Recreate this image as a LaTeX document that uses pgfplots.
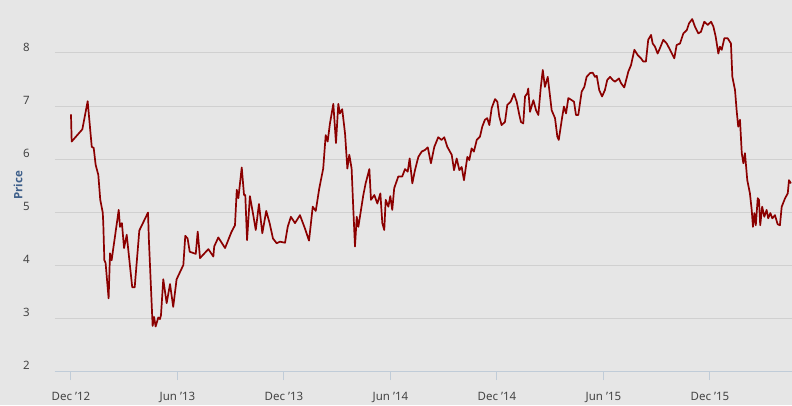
\documentclass[border=0pt]{standalone}
\usepackage{pgfplots}
\pgfplotsset{compat=1.18}
\usepackage{fontspec}
\setmainfont{Noto Sans}
\newfontfamily\titfont{Open Sans}
\definecolor{bgc}{HTML}{E6E6E6}
\definecolor{gridc}{HTML}{D0D0D0}
\definecolor{axisc}{HTML}{C0CCD8}
\definecolor{linec}{HTML}{8B0000}
\definecolor{labc}{HTML}{444444}
\definecolor{titc}{HTML}{3E5F8A}
\begin{document}
\begin{tikzpicture}
\fill[bgc] (-55pt,-34pt) rectangle (737pt,371pt);
\begin{axis}[
  at={(0pt,0pt)}, anchor=south west,
  scale only axis, width=737pt, height=371pt,
  xmin=-0.90, xmax=40.62, ymin=2, ymax=9,
  ytick={2,3,4,5,6,7,8},
  xtick={0,6,12,18,24,30,36},
  xticklabels={Dec '12,Jun '13,Dec '13,Jun '14,Dec '14,Jun '15,Dec '15},
  axis x line*=bottom, axis y line*=left,
  y axis line style={draw=none},
  x axis line style={draw=axisc, line width=1pt, -},
  xtick style={draw=axisc, line width=1pt},
  ytick style={draw=none},
  tick align=outside, major tick length=9pt,
  ymajorgrids, grid style={draw=gridc, line width=1pt},
  /pgf/number format/assume math mode=true,
  tick label style={font=\fontsize{11.5}{13}\selectfont, text=labc},
  yticklabel style={anchor=east, inner sep=0pt, xshift=-16pt, yshift=6pt},
  xticklabel style={anchor=base, inner sep=0pt, yshift=-20pt},
  ylabel={Price},
  ylabel style={at={(axis description cs:0,0.5)}, anchor=center, yshift=37pt,
    font=\titfont\bfseries\fontsize{11.5}{13}\selectfont, text=titc},
]
\addplot[linec, line width=1.7pt, line join=round] coordinates {
(0.00,6.84) (0.04,6.33) (0.64,6.56) (0.94,7.09) (1.17,6.23) (1.28,6.21)
(1.39,5.89) (1.54,5.70) (1.65,5.23) (1.79,4.99) (1.82,4.79) (1.88,4.09)
(1.95,4.04) (2.12,3.37) (2.20,4.22) (2.29,4.09) (2.69,5.04) (2.76,4.72)
(2.87,4.79) (2.99,4.32) (3.14,4.57) (3.45,3.58) (3.59,3.58) (3.85,4.65)
(4.34,4.99) (4.39,4.47) (4.60,2.85) (4.68,3.02) (4.77,2.84) (4.92,3.01)
(5.01,2.98) (5.07,3.05) (5.20,3.73) (5.39,3.28) (5.58,3.64) (5.76,3.21)
(5.95,3.73) (6.33,4.00) (6.44,4.55) (6.57,4.50) (6.69,4.25) (7.03,4.21)
(7.14,4.63) (7.27,4.13) (7.74,4.30) (8.02,4.16) (8.07,4.35) (8.30,4.52)
(8.68,4.32) (9.05,4.63) (9.24,4.75) (9.34,5.42) (9.43,5.26) (9.62,5.84)
(9.75,5.32) (9.82,5.32) (9.92,4.47) (10.08,5.30) (10.27,4.94) (10.41,4.66)
(10.59,5.15) (10.78,4.60) (11.00,5.02) (11.19,4.79) (11.38,4.50) (11.59,4.41)
(11.77,4.44) (12.06,4.42) (12.21,4.72) (12.39,4.91) (12.62,4.79) (12.90,4.94)
(13.18,4.69) (13.41,4.46) (13.62,5.10) (13.79,5.02) (13.99,5.45) (14.21,5.82)
(14.35,6.45) (14.46,6.33) (14.59,6.67) (14.78,7.04) (14.93,6.30) (15.06,7.04)
(15.15,6.86) (15.28,6.94) (15.44,6.48) (15.57,5.82) (15.68,6.08) (15.81,5.82)
(15.90,5.10) (16.00,4.35) (16.10,4.91) (16.19,4.72) (16.47,5.32) (16.60,5.54)
(16.81,5.81) (16.90,5.23) (17.09,5.32) (17.26,5.16) (17.43,5.35) (17.54,4.79)
(17.65,4.66) (17.73,5.23) (17.88,5.10) (17.99,5.30) (18.10,5.04) (18.21,5.45)
(18.44,5.67) (18.66,5.67) (18.82,5.81) (18.97,5.76) (19.08,6.01) (19.23,5.54)
(19.38,5.79) (19.57,6.04) (19.76,6.14) (19.94,6.17) (20.10,6.22) (20.28,5.92)
(20.47,6.23) (20.69,6.41) (20.88,6.36) (21.03,6.41) (21.20,6.23) (21.35,6.14)
(21.45,6.08) (21.58,5.79) (21.73,6.01) (21.88,5.79) (22.01,5.85) (22.14,5.60)
(22.33,6.04) (22.44,5.98) (22.57,6.20) (22.70,6.14) (22.86,6.36) (23.04,6.42)
(23.17,6.61) (23.32,6.74) (23.45,6.77) (23.57,6.64) (23.70,6.96) (23.89,7.13)
(24.02,7.08) (24.13,6.80) (24.26,6.64) (24.45,6.70) (24.58,7.02) (24.77,7.08)
(24.96,7.23) (25.11,7.08) (25.26,6.83) (25.35,6.70) (25.48,6.67) (25.58,7.18)
(25.71,7.24) (25.76,7.33) (25.86,6.89) (26.05,7.11) (26.20,6.92) (26.33,6.83)
(26.46,7.33) (26.58,7.68) (26.70,7.36) (26.86,7.55) (26.99,7.18) (27.08,6.92)
(27.27,6.77) (27.40,6.42) (27.48,6.36) (27.65,6.74) (27.77,6.99) (27.89,6.86)
(28.02,7.15) (28.21,7.11) (28.34,7.08) (28.45,6.83) (28.58,6.83) (28.77,7.27)
(28.92,7.36) (29.05,7.55) (29.24,7.62) (29.39,7.63) (29.52,7.55) (29.62,7.57)
(29.76,7.30) (29.92,7.18) (30.08,7.30) (30.21,7.49) (30.37,7.55) (30.52,7.49)
(30.65,7.46) (30.87,7.52) (30.99,7.43) (31.17,7.35) (31.40,7.65) (31.55,7.77)
(31.74,8.06) (31.93,7.96) (32.11,7.90) (32.24,7.84) (32.39,7.84) (32.52,8.25)
(32.68,8.34) (32.77,8.18) (32.90,8.12) (33.05,7.99) (33.18,8.09) (33.37,8.25)
(33.56,8.18) (33.75,8.06) (33.99,7.90) (34.12,8.15) (34.31,8.18) (34.50,8.37)
(34.69,8.43) (34.82,8.56) (35.00,8.64) (35.15,8.50) (35.34,8.37) (35.49,8.40)
(35.68,8.59) (35.87,8.53) (36.06,8.59) (36.19,8.50) (36.32,8.31) (36.47,7.99)
(36.56,8.12) (36.66,8.06) (36.81,8.28) (36.99,8.28) (37.18,8.18) (37.26,7.55)
(37.41,7.30) (37.50,6.92) (37.59,6.61) (37.69,6.74) (37.79,6.11) (37.88,5.92)
(37.97,6.11) (38.10,5.60) (38.25,5.35) (38.35,5.04) (38.42,4.72) (38.50,4.98)
(38.58,4.75) (38.69,5.26) (38.76,5.23) (38.83,4.75) (38.94,5.10) (39.06,4.91)
(39.19,5.04) (39.28,4.88) (39.40,4.98) (39.51,4.88) (39.66,4.94) (39.81,4.77)
(39.94,4.75) (40.04,5.10) (40.23,5.26) (40.38,5.35) (40.45,5.60) (40.56,5.54)
};
\end{axis}
\pgfresetboundingbox
\path[use as bounding box] (-55pt,-34pt) rectangle (737pt,371pt);
\end{tikzpicture}
\end{document}
